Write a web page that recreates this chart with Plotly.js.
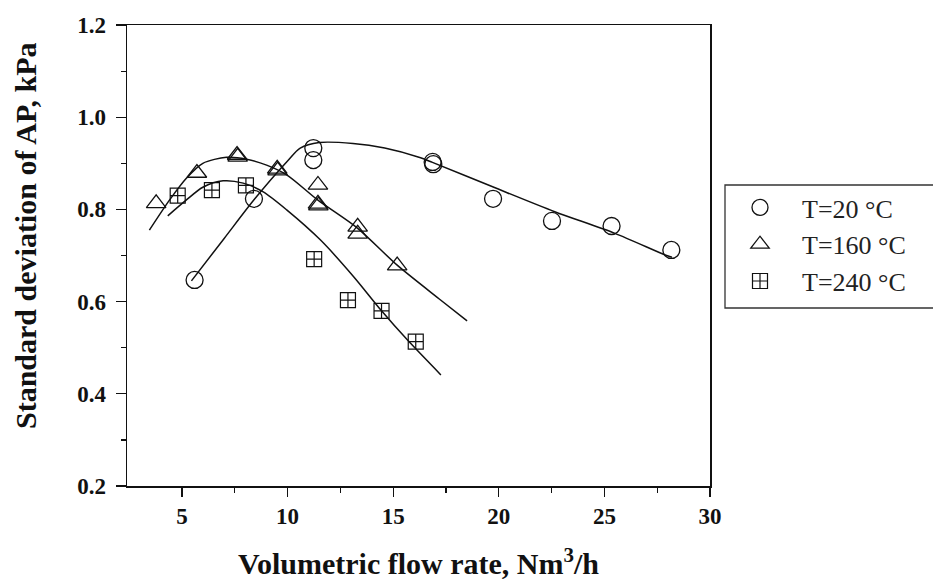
<!DOCTYPE html>
<html>
<head>
<meta charset="utf-8">
<script src="https://cdn.plot.ly/plotly-3.0.1.min.js"></script>
<style>html,body{margin:0;padding:0;background:#fff;}#chart{width:933px;height:584px;}</style>
</head>
<body>
<div id="chart"></div>
<script>
// Measured points
const x20 = [5.6, 8.41, 11.22, 11.22, 16.87, 16.9, 19.73, 22.52, 25.34, 28.17];
const y20 = [0.647, 0.823, 0.933, 0.907, 0.903, 0.898, 0.823, 0.775, 0.764, 0.712];

const x160 = [3.78, 5.71, 7.61, 7.64, 9.51, 9.53, 11.44, 11.44, 11.46, 13.32, 13.32, 15.19];
const y160 = [0.813, 0.879, 0.918, 0.914, 0.888, 0.884, 0.853, 0.812, 0.808, 0.762, 0.747, 0.678];

const x240 = [4.80, 6.42, 8.03, 11.26, 12.86, 14.45, 16.07];
const y240 = [0.830, 0.842, 0.852, 0.692, 0.603, 0.580, 0.513];

// Fitted curves
const fit20x = [5.45, 7.0, 8.45, 10.0, 10.6, 11.5, 13.1, 14.6, 16.3, 16.86, 19.71, 22.65, 25.5, 27.88, 28.2];
const fit20y = [0.645, 0.737, 0.823, 0.905, 0.933, 0.945, 0.943, 0.933, 0.912, 0.902, 0.849, 0.795, 0.748, 0.701, 0.696];

const fit160x = [3.46, 4.41, 5.20, 5.99, 7.11, 8.06, 9.01, 9.96, 11.44, 13.32, 15.19, 17.26, 18.5];
const fit160y = [0.755, 0.820, 0.867, 0.900, 0.913, 0.909, 0.896, 0.875, 0.820, 0.759, 0.679, 0.603, 0.558];

const fit240x = [4.33, 5.20, 5.99, 6.95, 7.90, 8.85, 9.96, 11.55, 13.13, 14.45, 15.67, 17.26];
const fit240y = [0.786, 0.820, 0.848, 0.862, 0.857, 0.838, 0.799, 0.734, 0.654, 0.580, 0.517, 0.441];

const seriesNames = ['T=20 °C', 'T=160 °C', 'T=240 °C'];
const xTickVals = [5, 10, 15, 20, 25, 30];
const yTickVals = [0.2, 0.4, 0.6, 0.8, 1.0, 1.2];
const xTitle = 'Volumetric flow rate, Nm<sup>3</sup>/h';
const yTitle = 'Standard deviation of AP, kPa';

const FONT = 'Liberation Serif, Times New Roman, serif';
const lineStyle = {color: '#111', width: 1.5, shape: 'spline', smoothing: 0.8};

const traces = [
  {x: fit20x, y: fit20y, mode: 'lines', line: lineStyle, showlegend: false, hoverinfo: 'skip'},
  {x: fit160x, y: fit160y, mode: 'lines', line: lineStyle, showlegend: false, hoverinfo: 'skip'},
  {x: fit240x, y: fit240y, mode: 'lines', line: lineStyle, showlegend: false, hoverinfo: 'skip'},
  {x: x20, y: y20, mode: 'markers', name: seriesNames[0], legendgroup: 'a',
   marker: {symbol: 'circle-open', size: 17, color: '#111', line: {width: 1.3, color: '#111'}}},
  {x: x160, y: y160, mode: 'markers', name: seriesNames[1], legendgroup: 'b',
   marker: {symbol: 'triangle-up-open', size: 17, color: '#111', line: {width: 1.3, color: '#111'}}},
  {x: x240, y: y240, mode: 'markers', name: seriesNames[2], legendgroup: 'c',
   marker: {symbol: 'square-cross-open', size: 15, color: '#111', line: {width: 1.2, color: '#111'}}}
];

const L = 127, R = 710, T = 25, B = 486, W = 933, H = 584;
const pw = R - L, ph = B - T;
const px2x = p => (p - L) / pw;
const px2y = p => (B - p) / ph;

const layout = {
  width: W, height: H,
  margin: {l: L, r: W - R, t: T, b: H - B, pad: 0},
  paper_bgcolor: '#fff', plot_bgcolor: '#fff',
  font: {family: FONT, color: '#111'},
  showlegend: true,
  legend: {
    x: px2x(718), y: px2y(184), xanchor: 'left', yanchor: 'top',
    font: {family: FONT, size: 26, color: '#222'},
    bgcolor: 'rgba(0,0,0,0)', borderwidth: 0,
    tracegroupgap: 0, itemwidth: 74
  },
  xaxis: {
    range: [2.4, 30], tickvals: xTickVals, ticktext: xTickVals.map(String),
    ticks: 'outside', ticklen: 9, tickwidth: 1.3, tickcolor: '#111',
    minor: {tickvals: [7.5, 12.5, 17.5, 22.5, 27.5], ticks: 'outside', ticklen: 5, tickwidth: 1.2, tickcolor: '#111'},
    showline: true, linewidth: 1.5, linecolor: '#111', mirror: true,
    showgrid: false, zeroline: false,
    tickfont: {family: FONT, size: 23, weight: 'bold', color: '#111'},
    ticklabelstandoff: 0,
    title: {text: xTitle, font: {family: FONT, size: 30, weight: 'bold', color: '#111'}, standoff: 25}
  },
  yaxis: {
    range: [0.2, 1.2], tickvals: yTickVals, ticktext: yTickVals.map(v => v.toFixed(1)),
    ticks: 'outside', ticklen: 10, tickwidth: 1.3, tickcolor: '#111',
    minor: {tickvals: [0.3, 0.5, 0.7, 0.9, 1.1], ticks: 'outside', ticklen: 5, tickwidth: 1.2, tickcolor: '#111'},
    showline: true, linewidth: 1.5, linecolor: '#111', mirror: true,
    showgrid: false, zeroline: false,
    tickfont: {family: FONT, size: 23, weight: 'bold', color: '#111'},
    ticklabelstandoff: 5
  },
  annotations: [{
    text: yTitle, xref: 'paper', yref: 'paper',
    x: px2x(25), y: px2y(236), xanchor: 'center', yanchor: 'middle',
    textangle: -90, showarrow: false,
    font: {family: FONT, size: 30, weight: 'bold', color: '#111'}
  }],
  shapes: [{
    type: 'rect', xref: 'paper', yref: 'paper',
    x0: px2x(725), x1: px2x(940), y0: px2y(308), y1: px2y(185),
    line: {color: '#333', width: 1.3}, fillcolor: 'rgba(0,0,0,0)'
  }]
};

Plotly.newPlot('chart', traces, layout, {displayModeBar: false, staticPlot: true});
</script>
</body>
</html>
